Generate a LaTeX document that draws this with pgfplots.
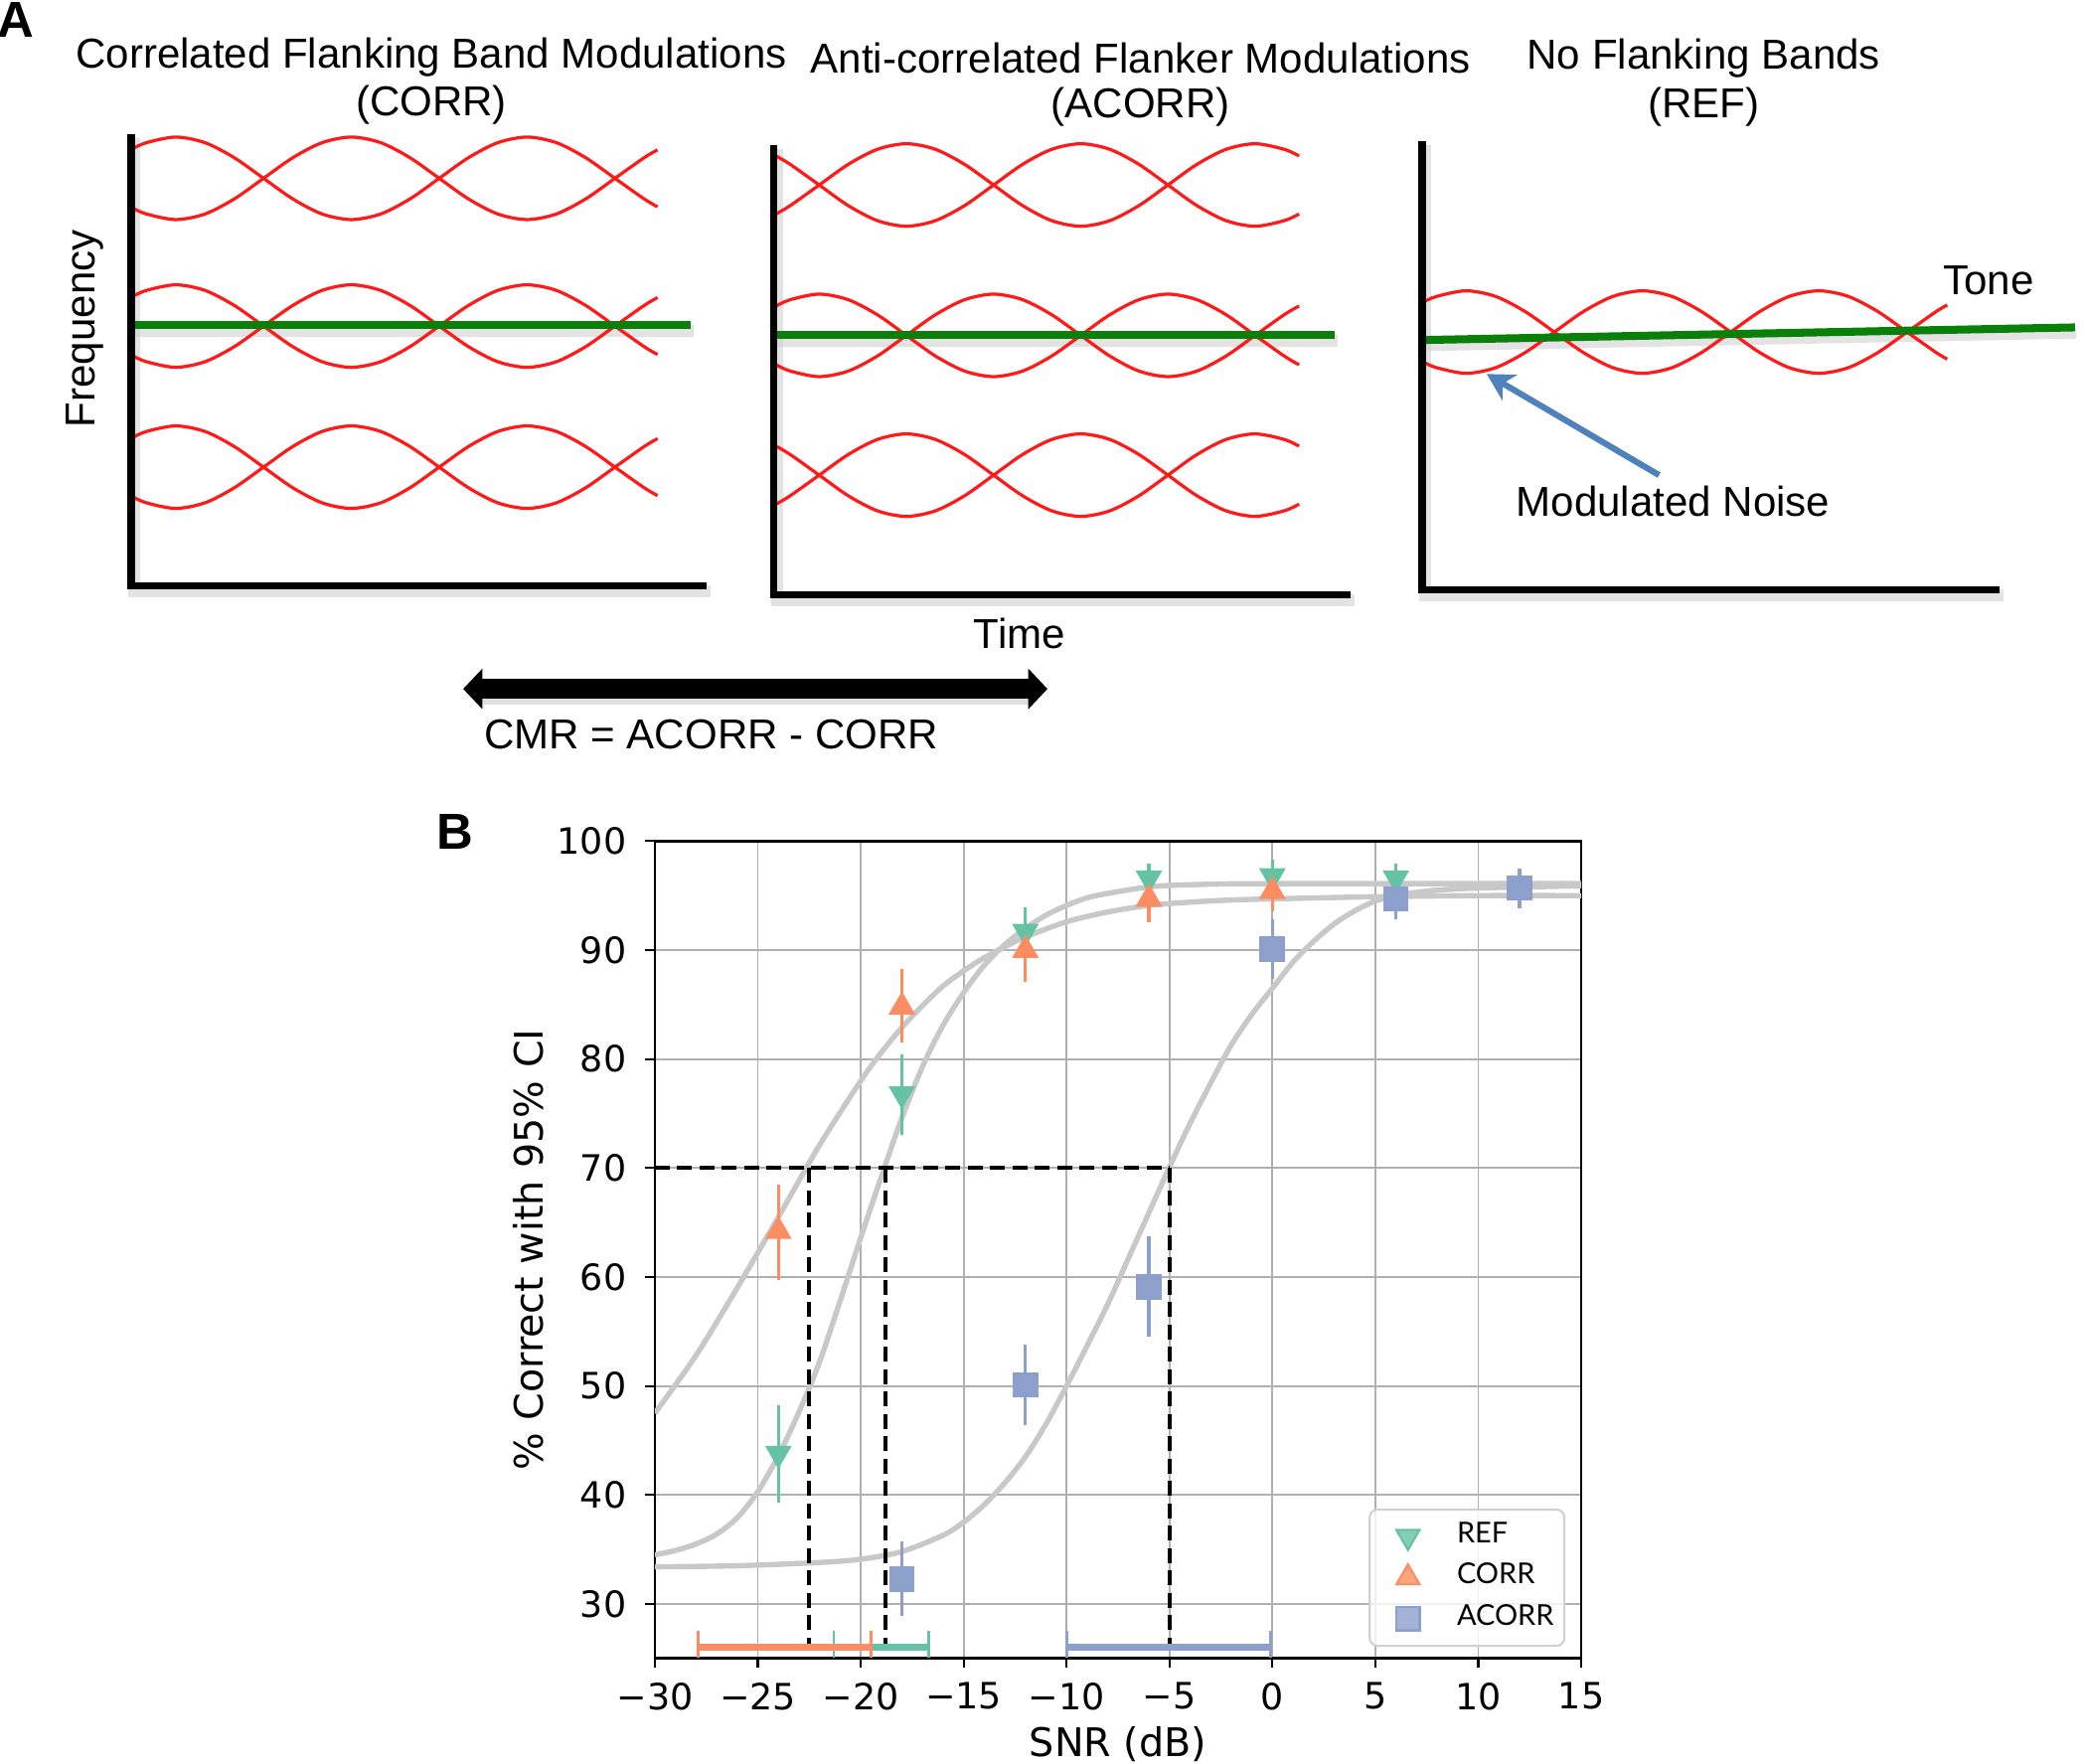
\documentclass[border=0pt]{standalone}
\usepackage{fontspec}
\setmainfont{Liberation Sans}
\newfontfamily\djv{DejaVu Sans}
\newfontfamily\lato{Lato}
\usepackage{pgfplots}
\usepackage{pgfplotstable}
\pgfplotsset{compat=1.18}
\usetikzlibrary{arrows.meta}

\definecolor{cRef}{HTML}{66C2A5}
\definecolor{cCorr}{HTML}{FC8D62}
\definecolor{cAcorr}{HTML}{8DA0CB}
\definecolor{cFit}{HTML}{C8C8C8}
\definecolor{cTone}{HTML}{0A800A}
\definecolor{cNoise}{HTML}{FF1A1A}
\definecolor{cArrow}{HTML}{4F81BD}
\definecolor{cGrid}{HTML}{B0B0B0}

\pgfplotsset{
  noise/.style={cNoise, line width=0.6pt, smooth, no markers},
  frame/.style={black, line width=1.35pt, no markers, line join=miter},
  shade/.style={black!18, line width=2.2pt, no markers, opacity=0.6},
  tone/.style={cTone, line width=1.5pt, no markers},
  fit/.style={cFit, line width=1pt, smooth, no markers, forget plot},
  guide/.style={black, line width=0.7pt, dash pattern=on 2.8pt off 1.4pt, no markers, forget plot},
}
\newcommand{\fa}{\fontsize{7.85}{9.4}\selectfont}

% noise bands of panel A, in figure pixels (y down): u = upper start, l = lower start
\pgfplotstableread{
x    u1    l1    u2    l2    u3    l3
100  111.6 156.4 222.6 267.4 328.6 373.4
110  107.2 160.8 218.2 271.8 324.2 377.8
132  103   165   214   276   320   382
154  107.2 160.8 218.2 271.8 324.2 377.8
176  118.5 149.5 229.5 260.5 335.5 366.5
198  134   134   245   245   351   351
220  149.5 118.5 260.5 229.5 366.5 335.5
242  160.8 107.2 271.8 218.2 377.8 324.2
264  165   103   276   214   382   320
286  160.8 107.2 271.8 218.2 377.8 324.2
308  149.5 118.5 260.5 229.5 366.5 335.5
330  134   134   245   245   351   351
352  118.5 149.5 229.5 260.5 335.5 366.5
374  107.2 160.8 218.2 271.8 324.2 377.8
396  103   165   214   276   320   382
418  107.2 160.8 218.2 271.8 324.2 377.8
440  118.5 149.5 229.5 260.5 335.5 366.5
462  134   134   245   245   351   351
484  149.5 118.5 260.5 229.5 366.5 335.5
494  155.4 112.6 266.4 223.6 372.4 329.6
}\bandsCorr

\pgfplotstableread{
x     u1    l1    u2    l2    u3    l3
583   160.8 117.2 230   274   378.8 335.2
593.7 154.5 123.5 225.2 278.8 372.5 341.5
615.5 139   139   221   283   357   357
637.3 123.5 154.5 225.2 278.8 341.5 372.5
659.2 112.2 165.8 236.5 267.5 330.2 383.8
681   108   170   252   252   326   388
702.8 112.2 165.8 267.5 236.5 330.2 383.8
724.7 123.5 154.5 278.8 225.2 341.5 372.5
746.5 139   139   283   221   357   357
768.3 154.5 123.5 278.8 225.2 372.5 341.5
790.2 165.8 112.2 267.5 236.5 383.8 330.2
812   170   108   252   252   388   326
833.8 165.8 112.2 236.5 267.5 383.8 330.2
855.7 154.5 123.5 225.2 278.8 372.5 341.5
877.5 139   139   221   283   357   357
899.3 123.5 154.5 225.2 278.8 341.5 372.5
921.2 112.2 165.8 236.5 267.5 330.2 383.8
943   108   170   252   252   326   388
964.8 112.2 165.8 267.5 236.5 330.2 383.8
976   117.2 160.8 274.1 229.9 335.2 378.8
}\bandsAcorr

\pgfplotstableread{
x      u1    l1
1070   226.7 272.3
1079.4 222.7 276.3
1101.5 218.5 280.5
1123.6 222.7 276.3
1145.7 234   265
1167.8 249.5 249.5
1189.8 265   234
1211.9 276.3 222.7
1234   280.5 218.5
1256.1 276.3 222.7
1278.2 265   234
1300.3 249.5 249.5
1322.3 234   265
1344.4 222.7 276.3
1366.5 218.5 280.5
1388.6 222.7 276.3
1410.7 234   265
1432.8 249.5 249.5
1454.8 265   234
1463   269.8 229.2
}\bandsRef

\begin{document}
\begin{tikzpicture}
% ---------- panel A, drawn in figure pixel units (y down) ----------
\begin{axis}[name=ov, at={(0,0)}, anchor=south west, scale only axis,
  width=392pt, height=331.25pt, xmin=0, xmax=1568, ymin=0, ymax=1325,
  y dir=reverse, hide axis, clip=false]

% shadows under the frames and tones
\addplot[shade] coordinates {(101,104)(101,444)(534,444)};
\addplot[shade] coordinates {(584,112)(584,451)(1018,451)};
\addplot[shade] coordinates {(1071,109)(1071,447)(1505,447)};
\addplot[shade] coordinates {(99,248.5)(521,248.5)};
\addplot[shade] coordinates {(582,256)(1005,256)};
\addplot[shade] coordinates {(1069,259.5)(1560,250)};

% CORR panel: three bands in phase
\foreach \c in {u1,l1,u2,l2,u3,l3}{\addplot[noise] table[x=x, y=\c] {\bandsCorr};}
\addplot[tone] coordinates {(98,244.5)(519,244.5)};
\addplot[frame] coordinates {(98.5,101)(98.5,440)(531,440)};

% ACORR panel: flankers out of phase with the middle band
\foreach \c in {u1,l1,u2,l2,u3,l3}{\addplot[noise] table[x=x, y=\c] {\bandsAcorr};}
\addplot[tone] coordinates {(581,252)(1003,252)};
\addplot[frame] coordinates {(581.5,109)(581.5,447)(1015,447)};

% REF panel: one band only
\addplot[noise] table[x=x, y=u1] {\bandsRef};
\addplot[noise] table[x=x, y=l1] {\bandsRef};
\addplot[tone] coordinates {(1068,255.5)(1559,246)};
\addplot[frame] coordinates {(1068.5,106)(1068.5,443)(1502,443)};

% arrows
\addplot[cArrow, line width=1.15pt, no markers, -{Stealth[length=5pt,width=5.5pt,inset=1.5pt]}] coordinates {(1246.5,357)(1117,281)};
\addplot[black!25, line width=3.8pt, no markers, opacity=0.5] coordinates {(362,521.6)(773,521.6)};
\addplot[black, line width=3.75pt, no markers, {Triangle[length=3.6pt,width=7.4pt]}-{Triangle[length=3.6pt,width=7.4pt]}] coordinates {(348,517.6)(787,517.6)};

% texts
\node[font=\bfseries\fontsize{9.5}{11}\selectfont] at (axis cs:12,15) {A};
\node[font=\fa] at (axis cs:324,43) {Correlated Flanking Band Modulations};
\node[font=\fa] at (axis cs:324,79) {(CORR)};
\node[font=\fa] at (axis cs:857,44) {Anti-correlated Flanker Modulations};
\node[font=\fa] at (axis cs:857,80) {(ACORR)};
\node[font=\fa] at (axis cs:1280,44) {No Flanking Bands};
\node[font=\fa] at (axis cs:1280,80) {(REF)};
\node[font=\fa, rotate=90] at (axis cs:64,247) {Frequency};
\node[font=\fa] at (axis cs:766,476) {Time};
\node[font=\fa, anchor=west, inner sep=0pt] at (axis cs:363,552) {CMR = ACORR - CORR};
\node[font=\fa] at (axis cs:1494,211) {Tone};
\node[font=\fa] at (axis cs:1257,377) {Modulated Noise};
\node[font=\bfseries\fontsize{9.5}{11}\selectfont] at (axis cs:342,625) {B};
\end{axis}

% ---------- panel B ----------
\begin{axis}[at={(123pt,19.75pt)}, anchor=south west, scale only axis,
  width=174pt, height=153.5pt,
  xmin=-30, xmax=15, ymin=25, ymax=100,
  xtick={-30,-25,...,15},
  xticklabels={−30,−25,−20,−15,−10,−5,0,5,10,15},
  ytick={30,40,...,100},
  grid=major, major grid style={cGrid, line width=0.35pt},
  tick align=outside, major tick length=1.8pt,
  xtick pos=lower, ytick pos=left,
  tick style={black, line width=0.4pt},
  axis line style={line width=0.5pt},
  /pgf/number format/assume math mode=true,
  ticklabel style={font=\djv\fontsize{6.8}{8}\selectfont},
  xticklabel style={yshift=0.8pt},
  label style={font=\djv\fontsize{7.4}{8.8}\selectfont},
  xlabel={SNR (dB)}, ylabel={\% Correct with 95\% CI},
  xlabel style={yshift=3.8pt}, ylabel style={yshift=-4.3pt},
  legend style={at={(0.983,0.014)}, anchor=south east,
    font=\lato\fontsize{5.4}{6.5}\selectfont, draw=black!18, rounded corners=1.5pt,
    fill=white, fill opacity=0.8, text opacity=1, draw opacity=1,
    inner xsep=0pt, inner ysep=0.4pt, row sep=-1.7pt},
  legend cell align=left,
  legend image code/.code={\path (-2pt,0pt) (12pt,0pt);
    \draw[mark repeat=2,mark phase=2] plot coordinates {(0pt,0pt)(5pt,0pt)(10pt,0pt)};},
]

% fitted psychometric curves
\addplot[fit] coordinates {(-30,47.5)(-28,52.8)(-26,59.0)(-24,65.5)(-22,72.1)(-20,78.0)(-19,80.6)(-18,82.9)(-17,84.9)(-16,86.7)(-15,88.1)(-14,89.3)(-13,90.3)(-12,91.2)(-10,92.6)(-8,93.5)(-6,94.1)(-4,94.4)(-2,94.6)(0,94.7)(5,94.9)(10,95)(15,95)};
\addplot[fit] coordinates {(-30,34.5)(-29,34.9)(-28,35.5)(-27,36.4)(-26,37.9)(-25,40.3)(-24,43.6)(-23,47.6)(-22,52.2)(-21,57.8)(-20,63.6)(-19,69.2)(-18,74.6)(-17,79.3)(-16,83.1)(-15,86.1)(-14,88.6)(-13,90.5)(-12,92.0)(-11,93.2)(-10,94.1)(-9,94.8)(-8,95.2)(-6,95.8)(-4,96.0)(0,96.1)(15,96.1)};
\addplot[fit] coordinates {(-30,33.4)(-26,33.5)(-22,33.8)(-20,34.1)(-18,34.8)(-16,36.3)(-15,37.5)(-14,39.1)(-13,41.1)(-12,43.5)(-11,46.5)(-10,50.0)(-9,53.7)(-8,57.5)(-7,61.7)(-6,65.9)(-5,70.1)(-4,74.1)(-3,77.8)(-2,81.3)(-1,84.1)(0,86.5)(1,88.9)(2,90.8)(3,92.4)(4,93.6)(5,94.5)(6,95.0)(7,95.3)(8,95.5)(10,95.7)(15,95.9)};

% 70% thresholds
\addplot[guide] coordinates {(-30,70)(-5,70)};
\addplot[guide] coordinates {(-22.5,70)(-22.5,26)};
\addplot[guide] coordinates {(-18.8,70)(-18.8,26)};
\addplot[guide] coordinates {(-5,70)(-5,26)};

% threshold confidence intervals along the bottom
\addplot[cRef, line width=1.3pt, no markers, forget plot] coordinates {(-21.3,26)(-16.7,26)};
\addplot[cRef, line width=0.5pt, no markers, forget plot] coordinates {(-21.3,25.1)(-21.3,27.5)};
\addplot[cRef, line width=0.5pt, no markers, forget plot] coordinates {(-16.7,25.1)(-16.7,27.5)};
\addplot[cCorr, line width=1.3pt, no markers, forget plot] coordinates {(-27.9,26)(-19.5,26)};
\addplot[cCorr, line width=0.5pt, no markers, forget plot] coordinates {(-27.9,25.1)(-27.9,27.5)};
\addplot[cCorr, line width=0.5pt, no markers, forget plot] coordinates {(-19.5,25.1)(-19.5,27.5)};
\addplot[cAcorr, line width=1.3pt, no markers, forget plot] coordinates {(-10,26)(-0.1,26)};
\addplot[cAcorr, line width=0.5pt, no markers, forget plot] coordinates {(-10,25.1)(-10,27.5)};
\addplot[cAcorr, line width=0.5pt, no markers, forget plot] coordinates {(-0.1,25.1)(-0.1,27.5)};

% data with 95% CI
\addplot[cRef, only marks, mark=triangle*, mark size=2.5pt, mark options={rotate=180, fill=cRef, draw=cRef},
  error bars/.cd, y dir=both, y explicit, error mark=none, error bar style={line width=0.6pt, cRef}]
  coordinates {(-24,43.8) +=(0,4.4) -=(0,4.5) (-18,76.8) +=(0,3.6) -=(0,3.8) (-12,91.7) +=(0,2.2) -=(0,2.2)
               (-6,96.6) +=(0,1.3) -=(0,1.3) (0,96.8) +=(0,1.5) -=(0,1.5) (6,96.6) +=(0,1.3) -=(0,1.3)};
\addlegendentry{REF}
\addplot[cCorr, only marks, mark=triangle*, mark size=2.5pt, mark options={fill=cCorr, draw=cCorr},
  error bars/.cd, y dir=both, y explicit, error mark=none, error bar style={line width=0.6pt, cCorr}]
  coordinates {(-24,64.2) +=(0,4.3) -=(0,4.5) (-18,84.8) +=(0,3.5) -=(0,3.3) (-12,90.0) +=(0,2.4) -=(0,2.9)
               (-6,94.7) +=(0,1.8) -=(0,2.1) (0,95.4) +=(0,1.5) -=(0,1.8)};
\addlegendentry{CORR}
\addplot[cAcorr, only marks, mark=square*, mark size=2.2pt, mark options={fill=cAcorr, draw=cAcorr},
  error bars/.cd, y dir=both, y explicit, error mark=none, error bar style={line width=0.6pt, cAcorr}]
  coordinates {(-18,32.3) +=(0,3.4) -=(0,3.4) (-12,50.1) +=(0,3.7) -=(0,3.7) (-6,59.1) +=(0,4.6) -=(0,4.6)
               (0,90.1) +=(0,2.7) -=(0,2.7) (6,94.7) +=(0,1.8) -=(0,1.9) (12,95.7) +=(0,1.8) -=(0,1.9)};
\addlegendentry{ACORR}
\end{axis}

\pgfresetboundingbox
\path[use as bounding box] (0,0) rectangle (392pt,331.25pt);
\end{tikzpicture}
\end{document}
